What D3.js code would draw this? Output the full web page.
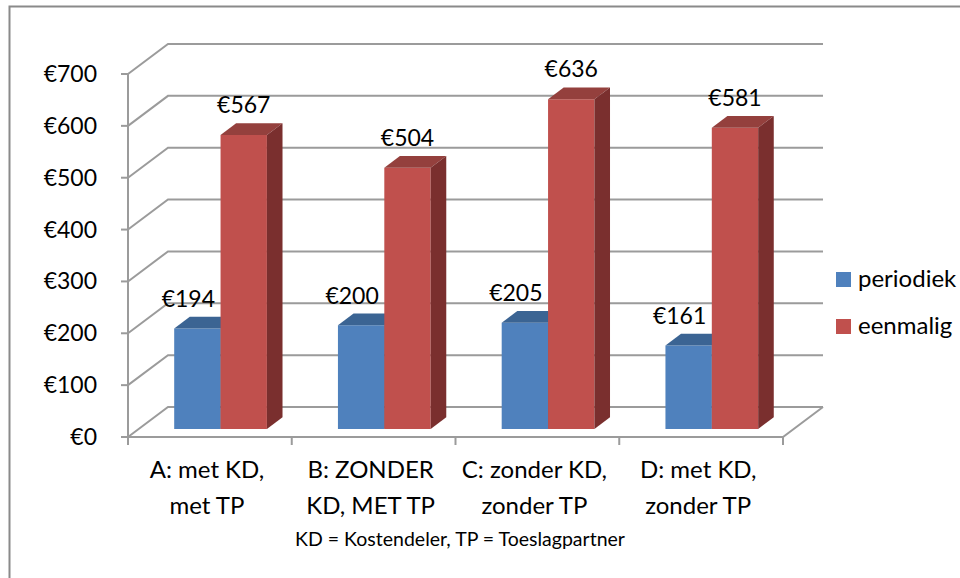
<!DOCTYPE html>
<html>
<head>
<meta charset="utf-8">
<script src="https://cdn.jsdelivr.net/npm/d3@7"></script>
<style>
    body { margin: 0; background: #fff; }
    text { font-family: Lato, "Open Sans", sans-serif; fill: #000; }
</style>
</head>
<body>
<script>
// data
const categories = ["A", "B", "C", "D"];
const categoryLines = [
    ["A: met KD,", "met TP"],
    ["B: ZONDER", "KD, MET TP"],
    ["C: zonder KD,", "zonder TP"],
    ["D: met KD,", "zonder TP"]
];
const seriesNames = ["periodiek", "eenmalig"];
const periodiek = [194, 200, 205, 161];
const eenmalig = [567, 504, 636, 581];
const yTicks = [0, 100, 200, 300, 400, 500, 600, 700];
const footnote = "KD = Kostendeler, TP = Toeslagpartner";

class Column3D {
    constructor(){
        this._width = 960;
        this._height = 578;
        this._front = {left:128, right:783, top:74, bottom:437};
        this._depth = {dx:40, dy:-30};
        this._barDepth = [0.267, 0.657];
        this._colors = {
            periodiek: {front:"#4f81bd", top:"#3b6493", side:"#2f5580"},
            eenmalig:  {front:"#c0504d", top:"#94403d", side:"#7a2f2e"}
        };
        this._grid = "#9b9b9b";
        this._svg = null;
    }

    // project a point on the front plane back to depth z (0..1)
    px(x, z){ return x + this._depth.dx * z; }
    py(y, z){ return y + this._depth.dy * z; }

    render(){
        const f = this._front;
        this._svg = d3.select("body").append("svg")
            .attr("width", this._width)
            .attr("height", this._height);
        const svg = this._svg;

        // outer frame
        svg.append("rect")
            .attr("x", 9.5).attr("y", 6.5)
            .attr("width", 1000).attr("height", 1000)
            .attr("fill", "none")
            .attr("stroke", "#8a8a8a")
            .attr("stroke-width", 2);

        const y = d3.scaleLinear().domain([0, 700]).range([f.bottom, f.top]);
        const x0 = d3.scaleBand().domain(categories).range([f.left, f.right]);
        const x1 = d3.scaleBand().domain(seriesNames)
            .range([0, x0.bandwidth()])
            .paddingInner(0).paddingOuter(0.766);

        const grid = svg.append("g")
            .attr("fill", "none")
            .attr("stroke", this._grid)
            .attr("stroke-width", 2);

        // side wall + back wall gridlines
        const line = d3.line();
        yTicks.forEach(t => {
            grid.append("path").attr("d", line([
                [f.left, y(t)],
                [this.px(f.left, 1), this.py(y(t), 1)],
                [this.px(f.right, 1), this.py(y(t), 1)]
            ]));
        });

        // floor front and right edges
        grid.append("path").attr("d", line([
            [f.left, f.bottom],
            [f.right, f.bottom],
            [this.px(f.right, 1), this.py(f.bottom, 1)]
        ]));

        // value axis
        grid.append("line")
            .attr("x1", f.left).attr("x2", f.left)
            .attr("y1", f.top).attr("y2", f.bottom + 8);
        yTicks.forEach(t => {
            grid.append("line")
                .attr("x1", f.left - 7).attr("x2", f.left)
                .attr("y1", y(t)).attr("y2", y(t));
        });

        // category ticks
        const bounds = categories.map(c => x0(c)).concat([f.right]);
        bounds.forEach(b => {
            grid.append("line")
                .attr("x1", b).attr("x2", b)
                .attr("y1", f.bottom).attr("y2", f.bottom + 8);
        });

        // y labels
        svg.append("g").selectAll("text")
            .data(yTicks).join("text")
            .attr("x", 97)
            .attr("y", d => y(d) + 8)
            .attr("text-anchor", "end")
            .attr("font-size", 23)
            .text(d => "€" + d);

        // bars
        const z0 = this._barDepth[0], z1 = this._barDepth[1];
        const bars = svg.append("g");
        const labels = svg.append("g");
        categories.forEach((c, i) => {
            const vals = [periodiek[i], eenmalig[i]];
            seriesNames.forEach((s, j) => {
                const col = this._colors[s];
                const xl = x0(c) + x1(s);
                const xr = xl + x1.bandwidth();
                const yt = y(vals[j]);
                const yb = y(0);
                const g = bars.append("g");
                // front
                g.append("path").attr("fill", col.front).attr("d", line([
                    [this.px(xl, z0), this.py(yt, z0)],
                    [this.px(xr, z0), this.py(yt, z0)],
                    [this.px(xr, z0), this.py(yb, z0)],
                    [this.px(xl, z0), this.py(yb, z0)]
                ]) + "Z");
                // top
                g.append("path").attr("fill", col.top).attr("d", line([
                    [this.px(xl, z0), this.py(yt, z0)],
                    [this.px(xl, z1), this.py(yt, z1)],
                    [this.px(xr, z1), this.py(yt, z1)],
                    [this.px(xr, z0), this.py(yt, z0)]
                ]) + "Z");
                // side
                g.append("path").attr("fill", col.side).attr("d", line([
                    [this.px(xr, z0), this.py(yt, z0)],
                    [this.px(xr, z1), this.py(yt, z1)],
                    [this.px(xr, z1), this.py(yb, z1)],
                    [this.px(xr, z0), this.py(yb, z0)]
                ]) + "Z");

                labels.append("text")
                    .attr("x", this.px((xl + xr) / 2, z0) - (j === 0 ? 9 : 0))
                    .attr("y", this.py(yt, z1) - 10)
                    .attr("text-anchor", "middle")
                    .attr("font-size", 23)
                    .text("€" + vals[j]);
            });
        });

        // category labels
        const cat = svg.append("g");
        categories.forEach((c, i) => {
            categoryLines[i].forEach((ln, k) => {
                cat.append("text")
                    .attr("x", x0(c) + x0.bandwidth() / 2 - 3)
                    .attr("y", 478 + k * 36)
                    .attr("text-anchor", "middle")
                    .attr("font-size", 24)
                    .text(ln);
            });
        });

        svg.append("text")
            .attr("x", 460).attr("y", 546)
            .attr("text-anchor", "middle")
            .attr("font-size", 19.5)
            .text(footnote);

        // legend
        const leg = svg.append("g");
        seriesNames.forEach((s, j) => {
            leg.append("rect")
                .attr("x", 836).attr("y", 272 + j * 47)
                .attr("width", 15).attr("height", 15)
                .attr("fill", this._colors[s].front);
            leg.append("text")
                .attr("x", 858).attr("y", 287 + j * 47)
                .attr("font-size", 24)
                .text(s);
        });

        return this;
    }
}

new Column3D().render();
</script>
</body>
</html>
